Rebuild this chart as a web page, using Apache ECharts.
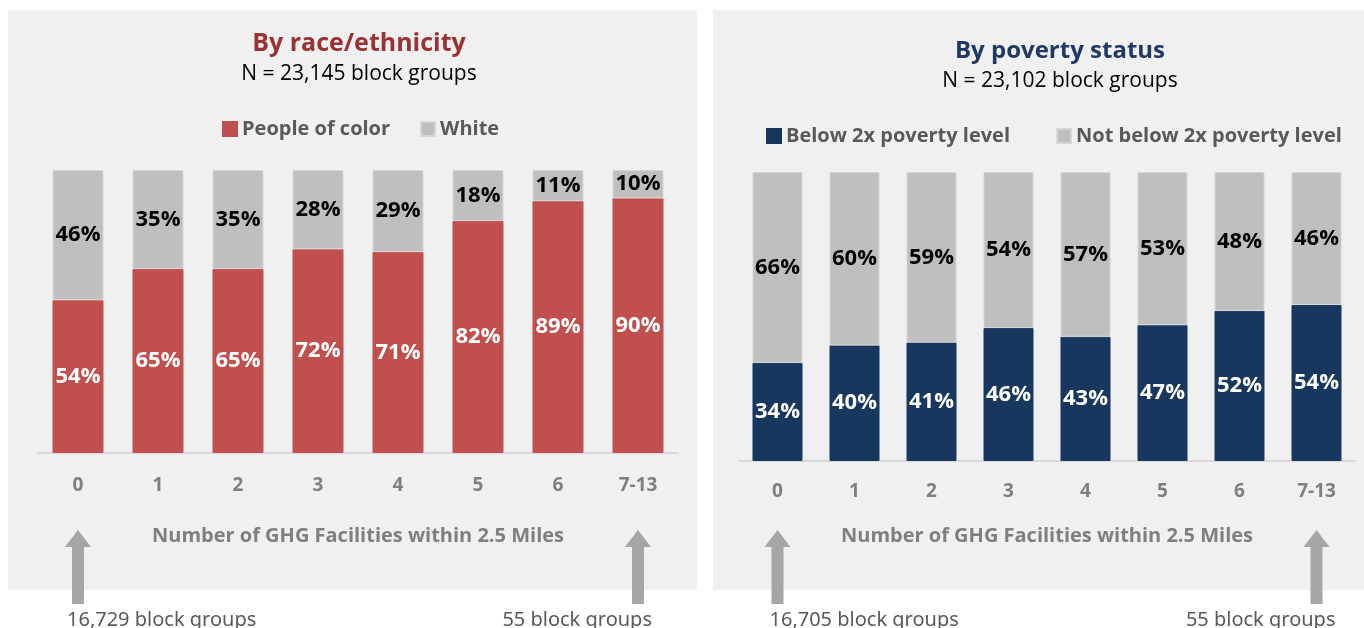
<!DOCTYPE html>
<html>
<head>
<meta charset="utf-8">
<script src="https://cdn.jsdelivr.net/npm/echarts@6/dist/echarts.min.js"></script>
<style>
  html, body { margin: 0; padding: 0; background: #fff; }
  #main { width: 1364px; height: 628px; }
</style>
</head>
<body>
<div id="main"></div>
<script>
// categories (number of facilities)
const categories = ["0", "1", "2", "3", "4", "5", "6", "7-13"];
// race / ethnicity shares
const peopleOfColor = [54, 65, 65, 72, 71, 82, 89, 90];
const white = [46, 35, 35, 28, 29, 18, 11, 10];
// poverty shares
const belowPoverty = [34, 40, 41, 46, 43, 47, 52, 54];
const notBelowPoverty = [66, 60, 59, 54, 57, 53, 48, 46];
// block group counts under the arrows
const firstCountLeft = "16,729 block groups";
const lastCountLeft = "55 block groups";
const firstCountRight = "16,705 block groups";
const lastCountRight = "55 block groups";

const FONT = "Open Sans";
const RED = "#c0504d";
const NAVY = "#17375e";
const GRAY = "#bfbfbf";

let myChart = echarts.init(document.getElementById("main"));

function xAxisOf(idx, margin, gap) {
  return {
    type: "category",
    gridIndex: idx,
    data: categories,
    axisTick: { show: false },
    axisLine: { lineStyle: { color: "#d9d9d9", width: 2 } },
    axisLabel: { color: "#7f7f7f", fontSize: 19, fontWeight: "bold", fontFamily: FONT, margin: margin },
    name: "Number of GHG Facilities within 2.5 Miles",
    nameLocation: "middle",
    nameGap: gap,
    nameTextStyle: { color: "#7f7f7f", fontSize: 20, fontWeight: "bold", fontFamily: FONT }
  };
}

function barSeries(name, data, axisIdx, color, labelColor, width) {
  return {
    name: name,
    type: "bar",
    stack: "s" + axisIdx,
    xAxisIndex: axisIdx,
    yAxisIndex: axisIdx,
    data: data,
    barWidth: width,
    itemStyle: { color: color, borderColor: color === GRAY ? "#d6d6d6" : color, borderWidth: 1 },
    label: {
      show: true,
      position: "inside",
      formatter: "{c}%",
      color: labelColor,
      fontSize: 22,
      fontWeight: "bold",
      fontFamily: FONT
    }
  };
}

const panels = [
  { type: "rect", z: -10, shape: { x: 8, y: 10, width: 689, height: 580 }, style: { fill: "#f0f0f0" } },
  { type: "rect", z: -10, shape: { x: 713, y: 10, width: 651, height: 580 }, style: { fill: "#f0f0f0" } }
];

myChart.setOption({
  animation: false,
  backgroundColor: "#fff",
  graphic: panels,
  title: [
    {
      text: "By race/ethnicity",
      subtext: "N = 23,145 block groups",
      left: 354, top: 26, textAlign: "center", itemGap: 8,
      textStyle: { color: "#993333", fontSize: 25, fontWeight: "bold", fontFamily: FONT },
      subtextStyle: { color: "#000", fontSize: 21, fontFamily: FONT }
    },
    {
      text: "By poverty status",
      subtext: "N = 23,102 block groups",
      left: 1055, top: 34, textAlign: "center", itemGap: 8,
      textStyle: { color: "#1f3864", fontSize: 24, fontWeight: "bold", fontFamily: FONT },
      subtextStyle: { color: "#000", fontSize: 21, fontFamily: FONT }
    }
  ],
  legend: [
    {
      data: ["People of color", "White"],
      left: 217, top: 114, icon: "rect", itemWidth: 14, itemHeight: 14, itemGap: 30,
      textStyle: { color: "#595959", fontSize: 20, fontWeight: "bold", fontFamily: FONT }
    },
    {
      data: ["Below 2x poverty level", "Not below 2x poverty level"],
      left: 761, top: 121, icon: "rect", itemWidth: 14, itemHeight: 14, itemGap: 46,
      textStyle: { color: "#595959", fontSize: 20, fontWeight: "bold", fontFamily: FONT }
    }
  ],
  grid: [
    { left: 38, top: 170, width: 640, height: 283 },
    { left: 739, top: 172, width: 616, height: 289 }
  ],
  xAxis: [xAxisOf(0, 23, 73), xAxisOf(1, 21, 65)],
  yAxis: [
    { type: "value", gridIndex: 0, min: 0, max: 100, show: false },
    { type: "value", gridIndex: 1, min: 0, max: 100, show: false }
  ],
  series: [
    barSeries("People of color", peopleOfColor, 0, RED, "#fff", 51),
    barSeries("White", white, 0, GRAY, "#000", 51),
    barSeries("Below 2x poverty level", belowPoverty, 1, NAVY, "#fff", 50),
    barSeries("Not below 2x poverty level", notBelowPoverty, 1, GRAY, "#000", 50)
  ]
});

// arrows under the first and last category, placed from the axis scale
function arrow(x) {
  return {
    type: "polygon",
    shape: { points: [[x, 530], [x + 13, 547], [x + 6, 547], [x + 6, 604], [x - 6, 604], [x - 6, 547], [x - 13, 547]] },
    style: { fill: "#a6a6a6" }
  };
}
function countText(text, x, align) {
  return {
    type: "text",
    style: { text: text, x: x, y: 620, align: align, verticalAlign: "middle", fill: "#595959", fontSize: 20, fontFamily: "Noto Sans" }
  };
}
const l0 = myChart.convertToPixel({ xAxisIndex: 0 }, categories[0]);
const l7 = myChart.convertToPixel({ xAxisIndex: 0 }, categories[7]);
const r0 = myChart.convertToPixel({ xAxisIndex: 1 }, categories[0]);
const r7 = myChart.convertToPixel({ xAxisIndex: 1 }, categories[7]);
myChart.setOption({
  graphic: panels.concat([
    arrow(l0), arrow(l7), arrow(r0), arrow(r7),
    countText(firstCountLeft, l0 - 11, "left"),
    countText(lastCountLeft, l7 + 14, "right"),
    countText(firstCountRight, r0 - 8, "left"),
    countText(lastCountRight, r7 + 19, "right")
  ])
}, { replaceMerge: ["graphic"] });
</script>
</body>
</html>
